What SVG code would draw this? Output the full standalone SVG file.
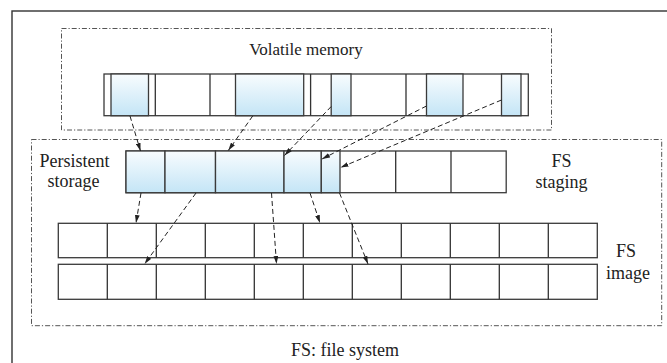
<svg xmlns="http://www.w3.org/2000/svg" width="667" height="363" viewBox="0 0 667 363">
  <defs>
    <linearGradient id="blk" x1="0" y1="0" x2="0" y2="1">
      <stop offset="0" stop-color="#f8fcfe"/>
      <stop offset="1" stop-color="#c4e5f6"/>
    </linearGradient>
    <marker id="arr" viewBox="0 0 10 6" refX="10" refY="3" markerWidth="8" markerHeight="5" markerUnits="userSpaceOnUse" orient="auto">
      <path d="M0,0 L10,3 L0,6 Z" fill="#222"/>
    </marker>
  </defs>
  <style>
    .frame { fill: none; stroke: #333; stroke-width: 1.4; }
    .zone { fill: none; stroke: #555; stroke-width: 1; stroke-dasharray: 5 2 1.2 2; }
    .cell { fill: #fff; stroke: #3a3a3a; stroke-width: 1.3; }
    .blk { fill: url(#blk); stroke: #3a3a3a; stroke-width: 1.3; }
    .div { stroke: #333; stroke-width: 1.3; }
    .lbl { font-size: 18px; fill: #222; text-anchor: middle; }
    .link { fill: none; stroke: #222; stroke-width: 1; stroke-dasharray: 5 3; marker-end: url(#arr); }
  </style>

  <rect width="667" height="363" fill="#fff"/>
  <!-- outer frame (runs past the right and bottom edges) -->
  <rect class="frame" x="12" y="11" width="700" height="400"/>

  <g font-family="'Liberation Serif', 'DejaVu Serif', serif">
  <!-- volatile memory region -->
  <g id="volatile-memory">
    <rect class="zone" x="61.5" y="28.5" width="490" height="101.5"/>
    <text class="lbl" x="306" y="54.5" style="font-size:17px">Volatile memory</text>
    <rect class="cell" x="104" y="74" width="424.3" height="41.7"/>
    <rect class="blk" x="111" y="74" width="37.5" height="41.7"/>
    <rect class="blk" x="235.5" y="74" width="68.2" height="41.7"/>
    <rect class="blk" x="331.2" y="74" width="19.8" height="41.7"/>
    <rect class="blk" x="426.5" y="74" width="36.5" height="41.7"/>
    <rect class="blk" x="501.5" y="74" width="19.5" height="41.7"/>
    <path class="div" d="M155.3,74V115.7M210,74V115.7M310.6,74V115.7M406,74V115.7"/>
  </g>

  <!-- file system region -->
  <g id="file-system">
    <rect class="zone" x="31.5" y="139.5" width="630.2" height="186.2"/>
  </g>

  <!-- staging area in persistent storage -->
  <g id="fs-staging">
    <text class="lbl" x="74.5" y="166.5">Persistent</text>
    <text class="lbl" x="73.5" y="187">storage</text>
    <text class="lbl" x="561.5" y="167">FS</text>
    <text class="lbl" x="561.5" y="188">staging</text>
    <rect class="cell" x="126" y="151" width="380.2" height="41.7"/>
    <rect class="blk" x="126" y="151" width="39" height="41.7"/>
    <rect class="blk" x="165" y="151" width="50.5" height="41.7"/>
    <rect class="blk" x="215.5" y="151" width="68.5" height="41.7"/>
    <rect class="blk" x="284" y="151" width="37.3" height="41.7"/>
    <rect class="blk" x="321.3" y="151" width="18.7" height="41.7"/>
    <path class="div" d="M395.7,151V192.7M451,151V192.7"/>
  </g>

  <!-- file system image, two rows of blocks -->
  <g id="fs-image">
    <text class="lbl" x="626" y="257">FS</text>
    <text class="lbl" x="628" y="279">image</text>
    <rect class="cell" x="58.3" y="223.3" width="539" height="34.4"/>
    <rect class="cell" x="58.3" y="264.3" width="539" height="35"/>
    <path class="div" d="M107.3,223.3V257.7M156.3,223.3V257.7M205.3,223.3V257.7M254.3,223.3V257.7M303.3,223.3V257.7M352.3,223.3V257.7M401.3,223.3V257.7M450.3,223.3V257.7M499.3,223.3V257.7M548.3,223.3V257.7"/>
    <path class="div" d="M107.3,264.3V299.3M156.3,264.3V299.3M205.3,264.3V299.3M254.3,264.3V299.3M303.3,264.3V299.3M352.3,264.3V299.3M401.3,264.3V299.3M450.3,264.3V299.3M499.3,264.3V299.3M548.3,264.3V299.3"/>
  </g>

  <text class="lbl" x="345" y="356">FS: file system</text>
  </g>

  <!-- data movement -->
  <g id="connectors">
    <line class="link" x1="130" y1="116" x2="140.5" y2="151"/>
    <line class="link" x1="252.7" y1="116" x2="228.3" y2="150.5"/>
    <line class="link" x1="331.2" y1="106.5" x2="284.5" y2="155.5"/>
    <line class="link" x1="426.5" y1="106" x2="322" y2="159"/>
    <line class="link" x1="501.5" y1="100" x2="340.5" y2="167.5"/>
    <line class="link" x1="141" y1="193" x2="136" y2="223"/>
    <line class="link" x1="196" y1="193" x2="144.6" y2="264"/>
    <line class="link" x1="271.5" y1="193" x2="276.5" y2="264"/>
    <line class="link" x1="310" y1="193" x2="320" y2="223"/>
    <line class="link" x1="339.5" y1="193" x2="368" y2="264"/>
  </g>
</svg>
